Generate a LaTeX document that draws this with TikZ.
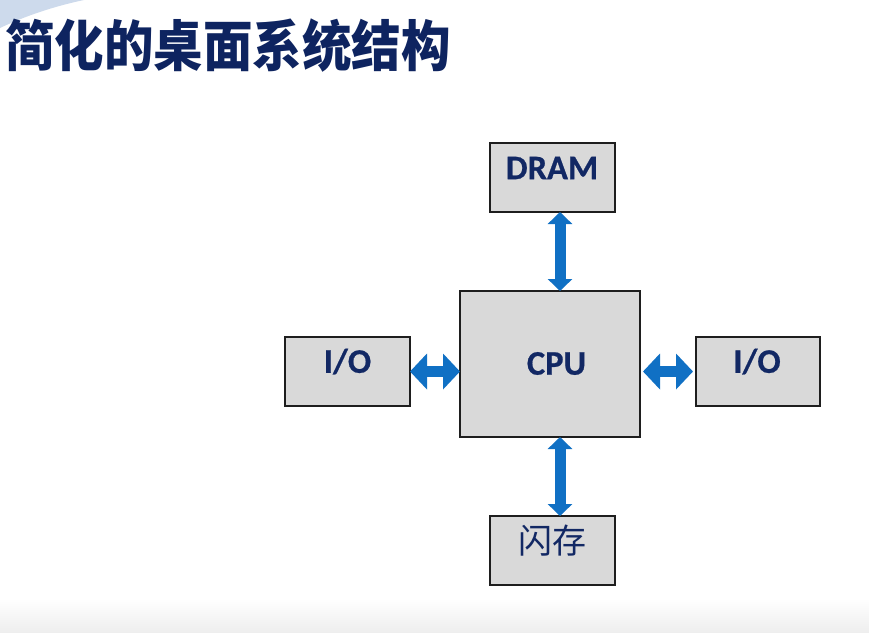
\documentclass[tikz,border=0pt]{standalone}
\usepackage{fontspec}
\setmainfont{Carlito}
\newfontfamily\cjk{Noto Sans CJK SC}
\newfontfamily\lblfont{Carlito Bold}[FakeBold=0.6]
\usetikzlibrary{arrows.meta}
\definecolor{titlenavy}{RGB}{14,36,96}
\definecolor{textnavy}{RGB}{18,40,100}
\definecolor{arrowblue}{RGB}{16,112,196}
\definecolor{boxgray}{RGB}{217,217,217}
\definecolor{swoosh}{RGB}{205,218,236}
\tikzset{
  box/.style={draw={rgb,255:red,30;green,30;blue,30}, line width=1.1pt, fill=boxgray, inner sep=0pt, outer sep=0pt},
  lbl/.style={text=textnavy, font=\lblfont\fontsize{34.5}{38}\selectfont, inner sep=0pt},
  cjklbl/.style={text=textnavy, font=\cjk\fontsize{34}{38}\selectfont, inner sep=0pt},
  varrow/.style={arrowblue, line width=11pt,
    {Triangle[length=12pt,width=24pt]}-{Triangle[length=12pt,width=24pt]}},
  harrow/.style={arrowblue, line width=11pt,
    {Triangle[length=17pt,width=35pt]}-{Triangle[length=17pt,width=35pt]}},
}
\begin{document}
\begin{tikzpicture}[x=1pt,y=-1pt]
\useasboundingbox (0,0) rectangle (869,632);
\fill[white] (0,0) rectangle (869,632);
% background decorations
\fill[swoosh] (0,0) -- (84,0) .. controls (55,6) and (25,16) .. (0,28) -- cycle;
\shade[top color=white, bottom color={rgb,255:red,238;green,238;blue,238}] (0,598) rectangle (869,632);
% title
\node[anchor=west, inner sep=0pt, text=titlenavy, font=\cjk\bfseries\fontsize{55}{60}\selectfont] (title) at (5,46) {\scalebox{0.9}[1]{简化的桌面系统结构}};
% boxes
\node[box, minimum width=125pt, minimum height=69pt] (dram) at (552.5,177.5) {};
\node[box, minimum width=180pt, minimum height=146pt] (cpu) at (550,364) {};
\node[box, minimum width=125pt, minimum height=69pt] (lio) at (347.5,371.5) {};
\node[box, minimum width=124pt, minimum height=69pt] (rio) at (758,371.5) {};
\node[box, minimum width=125pt, minimum height=69pt] (flash) at (552.5,550.5) {};
% labels
\node[lbl] (dramtxt) at (552,168) {DRAM};
\node[lbl] (cputxt) at (556.5,363.5) {CPU};
\node[lbl] (liotxt) at (347.5,361.5) {I/O};
\node[lbl] (riotxt) at (757,361.5) {I/O};
\node[cjklbl] (flashtxt) at (552,541) {闪存};
% connectors
\coordinate (vx) at (560,0);
\draw[varrow] (dram.south -| vx) -- (cpu.north -| vx);
\draw[varrow] (cpu.south -| vx) -- (flash.north -| vx);
\draw[harrow] (lio.east) -- (cpu.west |- lio.east);
\draw[harrow, shorten <=3pt, shorten >=3pt] (cpu.east |- rio.west) -- (rio.west);
\end{tikzpicture}
\end{document}
